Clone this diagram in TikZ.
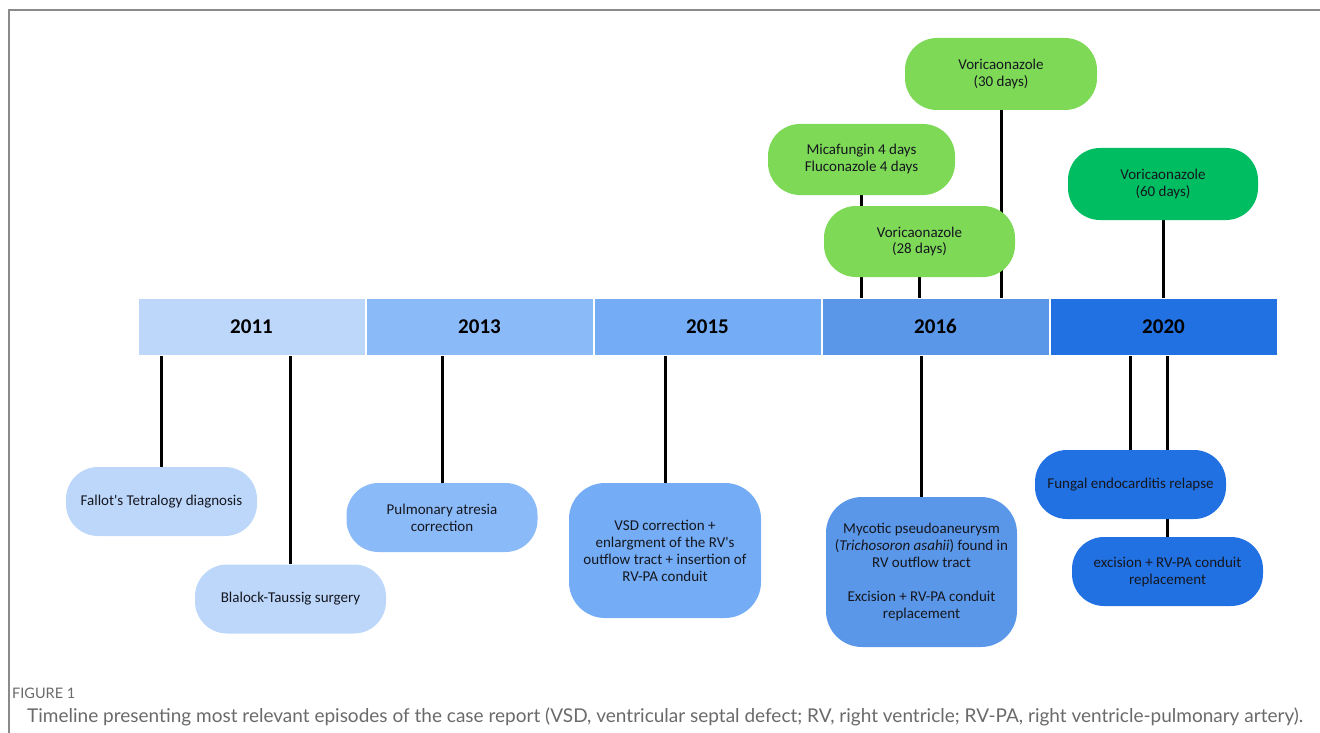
\documentclass[tikz,border=0pt]{standalone}
\usepackage{fontspec}
\setmainfont{Carlito}
\newfontfamily\capfont{Lato}
\usetikzlibrary{positioning,backgrounds}
\definecolor{YrA}{HTML}{BDD7FB}
\definecolor{YrB}{HTML}{8BBAF9}
\definecolor{YrC}{HTML}{74ADF6}
\definecolor{YrD}{HTML}{5B97E8}
\definecolor{YrE}{HTML}{2171E3}
\definecolor{LightGreen}{HTML}{7ED957}
\definecolor{DarkGreen}{HTML}{00BD62}
\definecolor{Ink}{HTML}{15171F}
\definecolor{CapGrey}{HTML}{6A6A6A}
\definecolor{FrameGrey}{HTML}{8A8A8A}
\tikzset{
  yearbox/.style={draw=white, line width=1pt, minimum width=227pt, minimum height=57pt, inner sep=0pt, font=\fontsize{21}{24}\selectfont\bfseries, text=black},
  event/.style={rounded corners=32pt, minimum width=191pt, minimum height=69pt, inner sep=0pt, align=center, text=Ink, font=\fontsize{15}{17}\selectfont},
  tallevent/.style={event, rounded corners=36pt},
  stem/.style={line width=3pt, draw=black}
}

\begin{document}
\begin{tikzpicture}[x=1pt,y=-1pt]
\useasboundingbox (0,0) rectangle (1320,733);
\draw[FrameGrey, line width=1.5pt] (9,733) -- (9,10) -- (1320,10);
% timeline bar
\node[yearbox,fill=YrA] (y2011) at (251.5,326.5) {2011};
\node[yearbox,fill=YrB,right=0pt of y2011] (y2013) {2013};
\node[yearbox,fill=YrC,right=0pt of y2013] (y2015) {2015};
\node[yearbox,fill=YrD,right=0pt of y2015] (y2016) {2016};
\node[yearbox,fill=YrE,right=0pt of y2016] (y2020) {2020};
% events below
\node[event,fill=YrA] (fallot) at (161.5,501.5) {Fallot\textquotesingle s Tetralogy diagnosis};
\node[event,fill=YrA] (blalock) at (290.5,599) {Blalock-Taussig surgery};
\node[event,fill=YrB] (atresia) at (442,517.5) {Pulmonary atresia\\correction};
\node[tallevent,fill=YrC,minimum width=192pt,minimum height=135pt] (vsd) at (665,550.5) {VSD correction +\\enlargment of the RV\textquotesingle s\\outflow tract + insertion of\\RV-PA conduit};
\node[tallevent,fill=YrD,minimum height=150pt] (mycotic) at (921.5,572) {Mycotic pseudoaneurysm\\(\textit{Trichosoron asahii}) found in\\RV outflow tract\\[17pt]Excision + RV-PA conduit\\replacement};
\node[event,fill=YrE] (fungal) at (1130.5,484.5) {Fungal endocarditis relapse};
\node[event,fill=YrE] (excision) at (1167.5,571.5) {excision + RV-PA conduit\\replacement};
% treatments above
\node[event,fill=LightGreen,minimum width=187pt,minimum height=71pt] (mica) at (861.5,159.5) {Micafungin 4 days\\Fluconazole 4 days};
\node[event,fill=LightGreen,minimum height=71pt] (vori28) at (919.5,241.5) {Voricaonazole\\(28 days)};
\node[event,fill=LightGreen,minimum width=192pt,minimum height=72pt] (vori30) at (1001,74) {Voricaonazole\\(30 days)};
\node[event,fill=DarkGreen,minimum width=190pt,minimum height=72pt] (vori60) at (1163,184) {Voricaonazole\\(60 days)};
\begin{scope}[on background layer]
\draw[stem] (fallot) -- (fallot |- y2011.south);
\draw[stem] (blalock) -- (blalock |- y2011.south);
\draw[stem] (atresia) -- (atresia |- y2013.south);
\draw[stem] (vsd) -- (vsd |- y2015.south);
\draw[stem] (mycotic) -- (mycotic |- y2016.south);
\draw[stem] (fungal) -- (fungal |- y2020.south);
\draw[stem] (excision) -- (excision |- y2020.south);
\draw[stem] (mica) -- (mica |- y2016.north);
\draw[stem] (vori28) -- (vori28 |- y2016.north);
\draw[stem] (vori30) -- (vori30 |- y2016.north);
\draw[stem] (vori60) -- (vori60 |- y2020.north);
\end{scope}
% caption
\node[anchor=base west,inner sep=0pt,text=CapGrey,font=\capfont\fontsize{14.5}{16}\selectfont] (figlabel) at (12,698) {FIGURE 1};
\node[anchor=base west,inner sep=0pt,text=CapGrey,font=\capfont\fontsize{19}{22}\selectfont] (caption) at (27,722) {Timeline presenting most relevant episodes of the case report (VSD, ventricular septal defect; RV, right ventricle; RV-PA, right ventricle-pulmonary artery).};
\end{tikzpicture}
\end{document}
